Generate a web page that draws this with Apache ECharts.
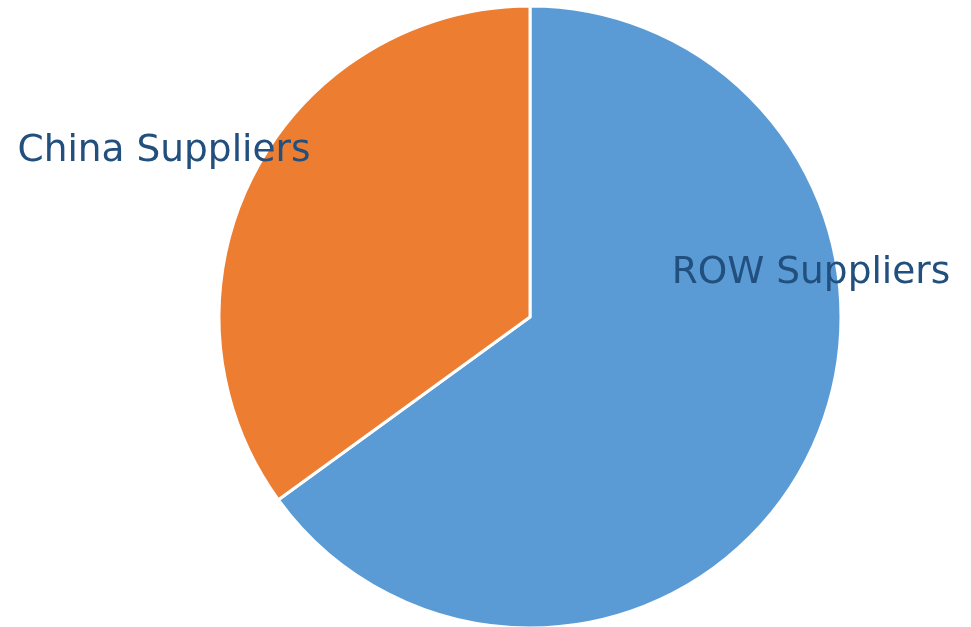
<!DOCTYPE html>
<html>
<head>
<meta charset="utf-8">
<script src="https://cdn.jsdelivr.net/npm/echarts@6/dist/echarts.min.js"></script>
<style>
  html, body { margin: 0; padding: 0; background: #ffffff; }
  #chart { width: 971px; height: 627px; }
</style>
</head>
<body>
<div id="chart"></div>
<script>
// Supplier share, in percent
const categories = ['ROW Suppliers', 'China Suppliers'];
const shares = [65, 35];
const colors = ['#5B9BD5', '#ED7D31'];
// Where each slice name sits on the canvas
const labelSpots = [[811, 273], [164, 151]];

const chart = echarts.init(document.getElementById('chart'), null, { renderer: 'canvas' });

chart.setOption({
  backgroundColor: '#ffffff',
  animation: false,
  series: [{
    type: 'pie',
    center: [530, 317],
    radius: 311,
    startAngle: 90,
    clockwise: true,
    data: categories.map((name, i) => ({
      name,
      value: shares[i],
      itemStyle: { color: colors[i] }
    })),
    itemStyle: { borderColor: '#ffffff', borderWidth: 3 },
    label: {
      show: true,
      position: 'inside',
      formatter: '{b}',
      fontFamily: 'DejaVu Sans',
      fontSize: 37.5,
      color: '#22507E'
    },
    labelLine: { show: false },
    labelLayout: (p) => ({
      x: labelSpots[p.dataIndex][0],
      y: labelSpots[p.dataIndex][1],
      align: 'center',
      verticalAlign: 'middle'
    }),
    emphasis: { disabled: true }
  }]
});
</script>
</body>
</html>
